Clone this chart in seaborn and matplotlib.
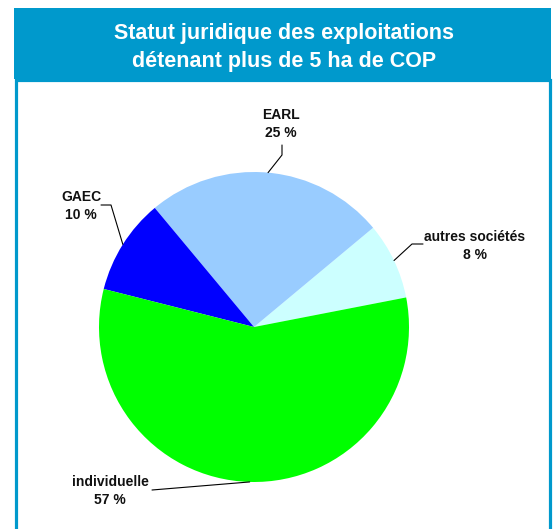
import matplotlib
matplotlib.use("Agg")
import matplotlib.pyplot as plt
from matplotlib.patches import Rectangle
import numpy as np
import seaborn as sns

# ---- data ----
categories = ["autres sociétés", "EARL", "GAEC", "individuelle"]
shares = [8, 25, 10, 57]
colors = ["#CCFFFF", "#99CCFF", "#0000FF", "#00FF00"]
title_lines = ["Statut juridique des exploitations", "détenant plus de 5 ha de COP"]

sns.set_theme(style="white")
plt.rcParams["font.family"] = ["Liberation Sans", "DejaVu Sans"]

W, H = 555, 529
fig = plt.figure(figsize=(W / 100, H / 100), dpi=100)
fig.patch.set_facecolor("white")

# background overlay in pixel coords
bg = fig.add_axes([0, 0, 1, 1])
bg.set_xlim(0, W)
bg.set_ylim(H, 0)
bg.axis("off")
band = "#0099CC"
bg.add_patch(Rectangle((15.5, 80), 534, 460, facecolor="white", edgecolor=band, lw=2.3))
bg.add_patch(Rectangle((14, 8), 537, 71, facecolor=band, edgecolor="none"))
bg.text(284, 34, title_lines[0], color="white", fontsize=15.5, fontweight="bold",
        ha="center", va="center")
bg.text(284, 62, title_lines[1], color="white", fontsize=15.5, fontweight="bold",
        ha="center", va="center")

# pie axes
cx, cy, R = 254, 327, 155
ax = fig.add_axes([(cx - R) / W, (H - cy - R) / H, 2 * R / W, 2 * R / H])
start = 11
wedges, _ = ax.pie(shares, colors=colors, startangle=start, counterclock=True,
                   radius=1, wedgeprops=dict(linewidth=0))
ax.set_xlim(-1, 1)
ax.set_ylim(-1, 1)
ax.set_aspect("equal")
ax.axis("off")

def d(px, py):
    return (px - cx) / R, (cy - py) / R

# label layout (pixel positions of text blocks and leader elbows)
label_pos = {
    "autres sociétés": (475, 246),
    "EARL": (281, 124),
    "GAEC": (81, 206),
    "individuelle": (110, 491),
}
elbows = {
    "autres sociétés": [(412, 244), (423, 244)],
    "EARL": [(282, 155), (282, 145)],
    "GAEC": [(111, 205), (101, 205)],
    "individuelle": [(152, 490)],
}

for w, cat, s in zip(wedges, categories, shares):
    mid = np.deg2rad((w.theta1 + w.theta2) / 2)
    pts = [(np.cos(mid), np.sin(mid))] + [d(*p) for p in elbows[cat]]
    xs, ys = zip(*pts)
    ax.plot(xs, ys, color="black", lw=0.8, clip_on=False)
    tx, ty = d(*label_pos[cat])
    ax.text(tx, ty, f"{cat}\n{s} %", ha="center", va="center", fontsize=10,
            fontweight="bold", color="#111111", linespacing=1.3, clip_on=False)

fig.savefig("out.png", dpi=100)
